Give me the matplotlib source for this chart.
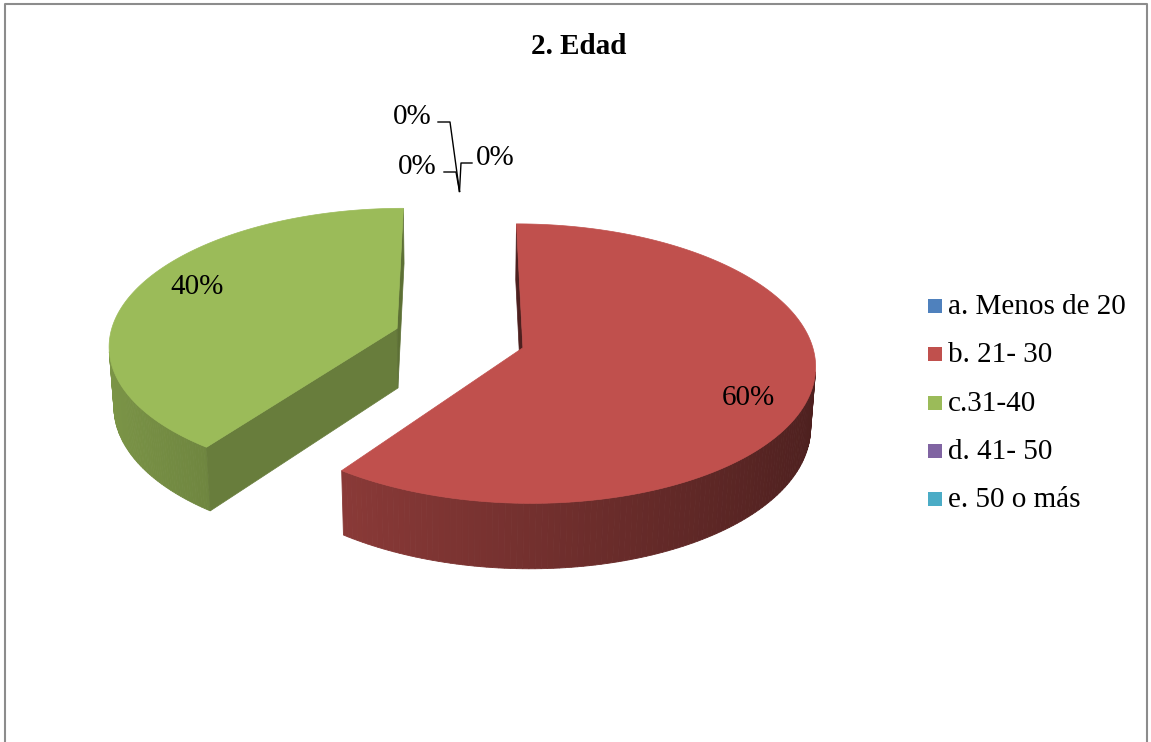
import numpy as np
import matplotlib.pyplot as plt
from matplotlib.patches import Polygon, Rectangle
from matplotlib.colors import to_rgb

# datos
categorias = ['a. Menos de 20', 'b. 21- 30', 'c.31-40', 'd. 41- 50', 'e. 50 o más']
porcentajes = [0, 60, 40, 0, 0]
colores = ['#4F81BD', '#C0504D', '#9BBB59', '#8064A2', '#4BACC6']
titulo = '2. Edad'

# proyeccion en perspectiva del pastel 3D (pixeles)
CX, CY = 459.5, 338.0
F, D = 2292.0, 7.85
FX = F * 0.985
phi = np.radians(27.7)
S, C = np.sin(phi), np.cos(phi)
ALTO = 0.235
EXPL = 0.23
CAM = np.array([0.0, -D * C, D * S])


def proj(u, v, z):
    yc = v * S + z * C
    dep = D + v * C - z * S
    return CX + FX * u / dep, CY - F * yc / dep


def visible(n, p):
    return np.dot(n, CAM - p) > 0


def tono(col, f):
    r, g, b = to_rgb(col)
    return (min(r * f, 1), min(g * f, 1), min(b * f, 1))


plt.rcParams['font.family'] = ['Liberation Serif', 'DejaVu Serif']

fig = plt.figure(figsize=(11.51, 7.42), dpi=100)
ax = fig.add_axes([0, 0, 1, 1])
ax.set_xlim(0, 1151)
ax.set_ylim(742, 0)
ax.axis('off')

total = sum(porcentajes)
acum = 0
puntos_cero = []
for val, col in zip(porcentajes, colores):
    t1 = 90 - 360 * acum / total
    acum += val
    t2 = 90 - 360 * acum / total
    bis = np.radians((t1 + t2) / 2)
    ou, ov = EXPL * np.cos(bis), EXPL * np.sin(bis)
    if val == 0:
        puntos_cero.append(proj(ou + np.cos(np.radians(t1)), ov + np.sin(np.radians(t1)), 0))
        continue
    ts = np.radians(np.linspace(t2, t1, 200))
    # lado exterior
    for a, b in zip(ts[:-1], ts[1:]):
        m = (a + b) / 2
        n = np.array([np.cos(m), np.sin(m), 0])
        p = np.array([ou + np.cos(m), ov + np.sin(m), -ALTO / 2])
        if not visible(n, p):
            continue
        pts = [proj(ou + np.cos(a), ov + np.sin(a), 0), proj(ou + np.cos(b), ov + np.sin(b), 0),
               proj(ou + np.cos(b), ov + np.sin(b), -ALTO), proj(ou + np.cos(a), ov + np.sin(a), -ALTO)]
        f = 0.6 + 0.2 * (-np.cos(m))
        c = tono(col, f)
        ax.add_patch(Polygon(pts, closed=True, facecolor=c, edgecolor=c, lw=0.6))
    # caras radiales
    for t, sgn in ((np.radians(t1), 1), (np.radians(t2), -1)):
        na = t + sgn * np.pi / 2
        n = np.array([np.cos(na), np.sin(na), 0])
        p = np.array([ou + 0.5 * np.cos(t), ov + 0.5 * np.sin(t), -ALTO / 2])
        if not visible(n, p):
            continue
        pts = [proj(ou, ov, 0), proj(ou + np.cos(t), ov + np.sin(t), 0),
               proj(ou + np.cos(t), ov + np.sin(t), -ALTO), proj(ou, ov, -ALTO)]
        f = 0.5 + 0.15 * (-np.sin(na)) + 0.1 * np.cos(na)
        c = tono(col, f)
        ax.add_patch(Polygon(pts, closed=True, facecolor=c, edgecolor=c, lw=0.5))
    # cara superior
    pts = [proj(ou, ov, 0)] + [proj(ou + np.cos(t), ov + np.sin(t), 0) for t in ts]
    ax.add_patch(Polygon(pts, closed=True, facecolor=col, edgecolor=col, lw=0.5))

# etiquetas de porcentaje
pos_etiquetas = {1: (748, 398), 2: (197, 287)}
for i, (x, y) in pos_etiquetas.items():
    ax.text(x, y, f'{porcentajes[i]}%', fontsize=21, ha='center', va='center')

# etiquetas de las porciones de 0% con lineas guia
px, py = puntos_cero[0]
guias = [((432, 117), [(438, 122), (450, 122)], 'right'),
         ((437, 167), [(444, 172), (456, 172)], 'right'),
         ((476, 158), [(472, 163), (461, 163)], 'left')]
for (tx, ty), lin, ha in guias:
    xs = [lin[0][0], lin[1][0], px]
    ys = [lin[0][1], lin[1][1], py]
    ax.plot(xs, ys, color='black', lw=1)
    ax.text(tx, ty, '0%', fontsize=21, ha=ha, va='center')

# leyenda
for i, (cat, col) in enumerate(zip(categorias, colores)):
    y = 306 + i * 48.3
    ax.add_patch(Rectangle((928, y - 7), 14, 14, facecolor=col, edgecolor='none'))
    ax.text(948, y + 1, cat, fontsize=21, ha='left', va='center')

ax.text(579, 46, titulo, fontsize=21, fontweight='bold', ha='center', va='center')

# marco
ax.plot([5, 5, 1147, 1147], [742, 4, 4, 742], color='#8c8c8c', lw=1.5)

fig.savefig('out.png', dpi=100)
